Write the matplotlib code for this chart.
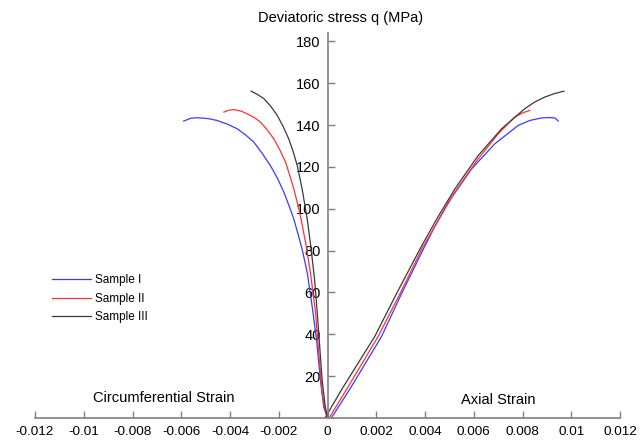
import matplotlib
matplotlib.use("Agg")
import matplotlib.pyplot as plt

plt.rcParams['font.family'] = ['Liberation Sans', 'DejaVu Sans']

# Sample I (blue)
s1_circ_x = [-0.00590, -0.00560, -0.00535, -0.00490, -0.00453, -0.00410, -0.00370, -0.00335, -0.00302,
             -0.00268, -0.00234, -0.00205, -0.00179, -0.00158, -0.00138, -0.00120, -0.00104,
             -0.00083, -0.00063, -0.00045, -0.00029, -0.00015, 0.0]
s1_circ_y = [141.9, 143.3, 143.5, 143.1, 142.2, 140.4, 138.2, 135.2, 131.8,
             126.5, 120.6, 114.5, 107.9, 101.5, 95.0, 87.5, 80.6,
             69.4, 53.4, 37.4, 18.2, 5.0, 0.0]
s1_ax_x = [0.00016, 0.00098, 0.00222, 0.00300, 0.00386, 0.00440, 0.00495, 0.00591, 0.00686,
           0.00782, 0.00830, 0.00878, 0.00910, 0.00933, 0.00947]
s1_ax_y = [0.0, 15.0, 39.0, 58.5, 79.0, 91.5, 103.0, 119.0, 131.0,
           139.8, 142.2, 143.4, 143.6, 143.4, 141.9]

# Sample II (red)
s2_circ_x = [-0.00425, -0.00405, -0.00384, -0.00355, -0.00330, -0.00300, -0.00275, -0.00248, -0.00220,
             -0.00195, -0.00172, -0.00155, -0.00138, -0.00124, -0.00111, -0.00090,
             -0.00070, -0.00049, -0.00036, -0.00022, -0.00010, 0.0]
s2_circ_y = [146.2, 147.1, 147.4, 146.7, 145.4, 143.6, 141.4, 137.8, 133.4,
             128.0, 122.3, 116.0, 109.4, 103.0, 96.6, 83.9,
             69.4, 50.3, 31.0, 11.9, 4.0, 0.0]
s2_ax_x = [0.00010, 0.00085, 0.00208, 0.00300, 0.00386, 0.00455, 0.00522, 0.00618, 0.00700,
           0.00768, 0.00800, 0.00830]
s2_ax_y = [0.6, 15.0, 39.0, 60.0, 80.6, 94.5, 107.9, 123.8, 135.8,
           143.8, 145.8, 147.0]

# Sample III (black)
s3_circ_x = [-0.00313, -0.00287, -0.00261, -0.00233, -0.00206, -0.00182, -0.00159, -0.00140, -0.00124,
             -0.00104, -0.00083, -0.00067, -0.00053, -0.00042, -0.00032, -0.00022, -0.00010, 0.0]
s3_circ_y = [156.2, 154.6, 152.6, 149.0, 144.6, 139.3, 133.4, 127.0, 120.6,
             109.4, 95.0, 80.6, 66.2, 50.3, 34.2, 18.2, 6.0, 0.0]
s3_ax_x = [-0.00010, 0.00057, 0.00194, 0.00290, 0.00386, 0.00455, 0.00522, 0.00618, 0.00714,
           0.00809, 0.00850, 0.00892, 0.00930, 0.00970]
s3_ax_y = [0.0, 13.4, 39.0, 61.0, 82.2, 96.5, 109.4, 125.4, 138.2,
           147.8, 151.0, 153.4, 155.0, 156.2]

labels = ['Sample I', 'Sample II', 'Sample III']
colors = ['#3a3aff', '#ff3030', '#3a3a3a']

xticks = [-0.012, -0.01, -0.008, -0.006, -0.004, -0.002, 0, 0.002, 0.004, 0.006, 0.008, 0.01, 0.012]
xtick_labels = ['-0.012', '-0.01', '-0.008', '-0.006', '-0.004', '-0.002', '0',
                '0.002', '0.004', '0.006', '0.008', '0.01', '0.012']
yticks = [20, 40, 60, 80, 100, 120, 140, 160, 180]

fig = plt.figure(figsize=(6.44, 4.42), dpi=100)
ax = fig.add_axes([35 / 644, 24 / 442, 585 / 644, 385 / 442])

series = [(s1_circ_x, s1_circ_y, s1_ax_x, s1_ax_y),
          (s2_circ_x, s2_circ_y, s2_ax_x, s2_ax_y),
          (s3_circ_x, s3_circ_y, s3_ax_x, s3_ax_y)]
for (cx, cy, axx, axy), lab, col in zip(series, labels, colors):
    ax.plot(cx, cy, color=col, lw=0.9, label=lab)
    ax.plot(axx, axy, color=col, lw=0.9)

ax.set_xlim(-0.012, 0.012)
ax.set_ylim(0, 184)

for s in ['top', 'right']:
    ax.spines[s].set_visible(False)
ax.spines['left'].set_position(('data', 0))
for s in ['left', 'bottom']:
    ax.spines[s].set_color('#808080')
    ax.spines[s].set_linewidth(1.2)

ax.set_xticks(xticks)
ax.set_xticklabels(xtick_labels)
ax.set_yticks(yticks)
ax.tick_params(axis='both', direction='in', length=5, width=1, color='#808080',
               labelcolor='black')
ax.tick_params(axis='x', pad=6, labelsize=9.7)
ax.tick_params(axis='y', pad=5, labelsize=10.5)

ax.text(-0.0067, 9.6, 'Circumferential Strain', ha='center', va='center', fontsize=10.5)
ax.text(0.00701, 8.6, 'Axial Strain', ha='center', va='center', fontsize=10.5)
fig.text(341 / 644, 1 - 18 / 442, 'Deviatoric stress q (MPa)', ha='center', va='center', fontsize=10.5)

leg = ax.legend(loc='upper left', bbox_to_anchor=(12 / 585, 0.385), frameon=False,
                fontsize=8.5, handlelength=3.3, handletextpad=0.4, labelspacing=0.55,
                borderaxespad=0)

fig.savefig('out.png', dpi=100)
